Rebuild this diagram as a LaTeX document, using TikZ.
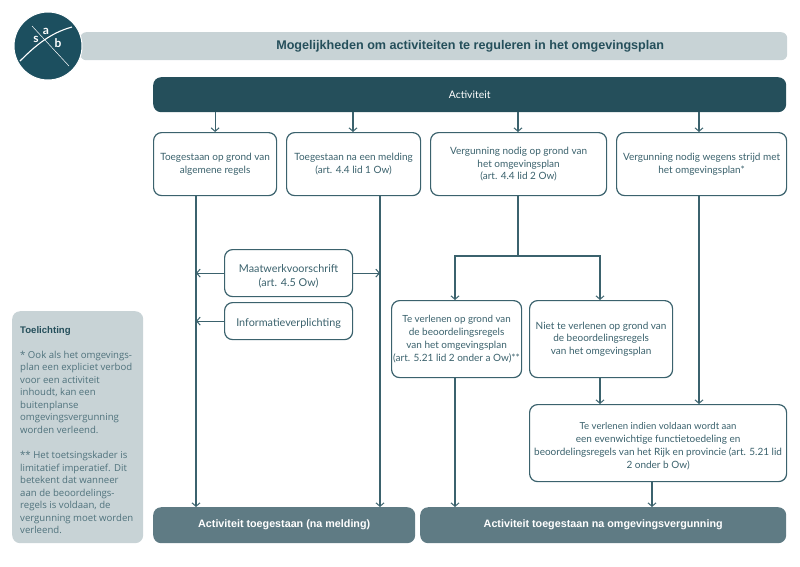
\documentclass[tikz,border=0pt]{standalone}
\usepackage{fontspec}
\setmainfont{Lato}
\newfontfamily\titlefont{Liberation Sans}
\newfontfamily\notefont{Open Sans}
\usetikzlibrary{arrows.meta}
\definecolor{dark}{HTML}{254F5B}
\definecolor{mid}{HTML}{5F7B84}
\definecolor{pale}{HTML}{C8D3D6}
\definecolor{ink}{HTML}{3B626D}
\definecolor{soft}{HTML}{4F727C}
\definecolor{logo}{HTML}{1C4F5F}
\tikzset{
  box/.style={draw=ink,line width=1.2pt,rounded corners=8pt,fill=white,text=ink,align=center,font=\fontsize{10}{12.8}\selectfont,inner sep=0pt},
  bigbox/.style={box,font=\fontsize{10.8}{14}\selectfont},
  band/.style={rounded corners=8pt,fill=dark,text=white,align=center,inner sep=0pt},
  result/.style={rounded corners=8pt,fill=mid,text=white,align=center,inner sep=0pt,font=\titlefont\fontsize{10.75}{12}\selectfont\bfseries},
  conn/.style={draw=ink,line width=1.2pt},
  arr/.style={conn,-{Straight Barb[length=3.5pt,width=8pt,line width=1pt]}},
}
\newcommand{\bx}[6][box]{\node[#1,minimum width=#4-#3,minimum height=#6-#5,anchor=north west] (#2) at (#3,#5)}
\begin{document}
\begin{tikzpicture}[x=1pt,y=-1pt]
\useasboundingbox (0,0) rectangle (800,566);
% header
\node[fill=pale,minimum width=707,minimum height=28,anchor=north west,inner sep=0pt,rounded corners=6pt,text=dark,font=\titlefont\fontsize{12.6}{14}\selectfont\bfseries] (head) at (80,32) {\hspace{73pt}Mogelijkheden om activiteiten te reguleren in het omgevingsplan};
% logo
\fill[logo,draw=white,line width=1pt] (48,46) circle (34);
\draw[white,line width=.5pt] (32,26) -- (69,66);
\draw[white,line width=1.1pt] (20,61) .. controls (35,46) and (50,33) .. (72,27);
\node[text=white,inner sep=0pt,font=\fontsize{12}{12}\selectfont\bfseries] (ls) at (36,39) {s};
\node[text=white,inner sep=0pt,font=\fontsize{12}{12}\selectfont\bfseries] (la) at (46,31) {a};
\node[text=white,inner sep=0pt,font=\fontsize{12}{12}\selectfont\bfseries] (lb) at (58,43) {b};
% boxes
\bx[band]{act}{153}{786}{77}{112} {\fontsize{10.4}{12}\selectfont Activiteit};
\bx{b1}{153}{276}{132}{195} {Toegestaan op grond van\\algemene regels};
\bx{b2}{286}{420}{132}{195} {Toegestaan na een melding\\(art. 4.4 lid 1 Ow)};
\bx{b3}{430}{606}{132}{195} {Vergunning nodig op grond van\\het omgevingsplan\\(art. 4.4 lid 2 Ow)};
\bx{b4}{616}{786}{132}{195} {Vergunning nodig wegens strijd met\\het omgevingsplan*};
\bx[bigbox]{maat}{224}{352}{249}{296} {\rule{0pt}{15pt}Maatwerkvoorschrift\\(art. 4.5 Ow)};
\bx[bigbox]{info}{224}{352}{302}{339} {\rule{0pt}{12pt}Informatieverplichting};
\bx{t1}{391}{521}{300}{377} {\fontsize{9.8}{12.8}\selectfont Te verlenen op grond van\\de beoordelingsregels\\van het omgevingsplan\\(art. 5.21 lid 2 onder a Ow)**};
\bx{n1}{529}{672}{300}{377} {Niet te verlenen op grond van\\de beoordelingsregels\\van het omgevingsplan};
\bx{te}{529}{786}{404}{481} {\fontsize{9.6}{12.8}\selectfont\rule{0pt}{13pt}Te verlenen indien voldaan wordt aan\\een evenwichtige functietoedeling en\\beoordelingsregels van het Rijk en provincie (art. 5.21 lid\\2 onder b Ow)};
\bx[result]{r1}{153}{415}{507}{543} {Activiteit toegestaan (na melding)};
\bx[result]{r2}{420}{786}{507}{543} {Activiteit toegestaan na omgevingsvergunning};
% note
\node[fill=pale,rounded corners=8pt,minimum width=131,minimum height=232,anchor=north west,inner sep=0pt] (note) at (12,311) {};
\node[anchor=north west,inner sep=0pt,align=left,text=soft,font=\notefont\fontsize{9.6}{12.55}\selectfont] (notetext) at (20,326) {{\color{dark}\titlefont\bfseries Toelichting}\\[12.5pt]
* Ook als het omgevings-\\plan een expliciet verbod\\voor een activiteit\\inhoudt, kan een\\buitenplanse\\omgevingsvergunning\\worden verleend.\\[12.5pt]
** Het toetsingskader is\\limitatief imperatief. Dit\\betekent dat wanneer\\aan de beoordelings-\\regels is voldaan, de\\vergunning moet worden\\verleend.};
% guide coordinates
\coordinate (xa) at (196,0);
\coordinate (xb) at (380,0);
\coordinate (xc) at (353,0);
\coordinate (xd) at (518,0);
\coordinate (xe) at (699,0);
\coordinate (xf) at (455,0);
\coordinate (xg) at (600,0);
\coordinate (xh) at (652,0);
\coordinate (ysplit) at (0,256);
% connectors
\draw[arr] (act.south -| b1) -- (b1.north);
\draw[arr] (act.south -| xc) -- (b2.north -| xc);
\draw[arr] (act.south -| xd) -- (b3.north -| xd);
\draw[arr] (act.south -| xe) -- (b4.north -| xe);
\draw[arr] (b1.south -| xa) -- (r1.north -| xa);
\draw[arr] (b2.south -| xb) -- (r1.north -| xb);
\draw[arr] (maat.west) -- (maat.west -| xa);
\draw[arr] (maat.east) -- (maat.east -| xb);
\draw[arr] (info.west) -- (info.west -| xa);
\draw[conn] (b3.south -| xd) -- (ysplit -| xd);
\draw[arr] (ysplit -| xd) -- (ysplit -| xf) -- (t1.north -| xf);
\draw[arr] (ysplit -| xd) -- (ysplit -| xg) -- (n1.north -| xg);
\draw[arr] (t1.south -| xf) -- (r2.north -| xf);
\draw[arr] (n1.south -| xg) -- (te.north -| xg);
\draw[arr] (b4.south -| xe) -- (te.north -| xe);
\draw[arr] (te.south -| xh) -- (r2.north -| xh);
\end{tikzpicture}
\end{document}
